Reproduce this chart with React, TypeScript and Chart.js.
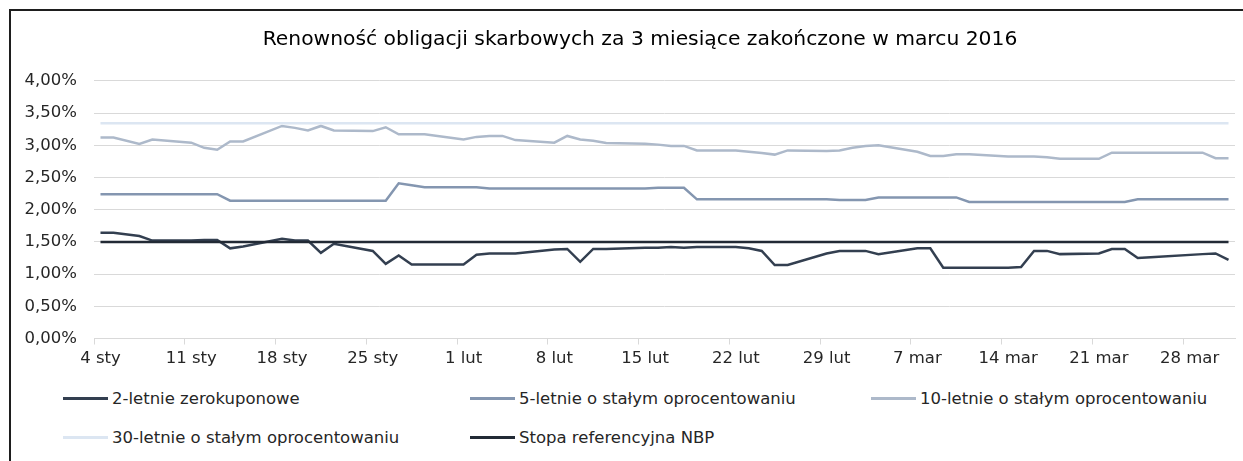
import { useEffect, useRef } from 'react';
import { Chart, registerables } from 'chart.js';

Chart.register(...registerables);

const FONT = '"DejaVu Sans", "Liberation Sans", sans-serif';
const TEXT = '#262626';

const chartTitle = 'Renowność obligacji skarbowych za 3 miesiące zakończone w marcu 2016';

// x-axis tick labels (every 7 days, counted from 4 Jan 2016)
const tickDays = [0, 7, 14, 21, 28, 35, 42, 49, 56, 63, 70, 77, 84];
const tickLabels = ['4 sty', '11 sty', '18 sty', '25 sty', '1 lut', '8 lut', '15 lut', '22 lut', '29 lut', '7 mar', '14 mar', '21 mar', '28 mar'];

// trading days, as day offsets from 4 Jan 2016 (holidays 6 Jan and 28 Mar excluded)
const tradingDays = [
  0, 1, 3, 4, 7, 8, 9, 10, 11, 14, 15, 16, 17, 18, 21, 22, 23, 24, 25,
  28, 29, 30, 31, 32, 35, 36, 37, 38, 39, 42, 43, 44, 45, 46, 49, 50, 51, 52, 53, 56,
  57, 58, 59, 60, 63, 64, 65, 66, 67, 70, 71, 72, 73, 74, 77, 78, 79, 80, 81, 85, 86, 87,
];

const seriesNames = [
  '2-letnie zerokuponowe',
  '5-letnie o stałym oprocentowaniu',
  '10-letnie o stałym oprocentowaniu',
  '30-letnie o stałym oprocentowaniu',
  'Stopa referencyjna NBP',
];
const seriesColors = ['#333f50', '#8496b0', '#adb9ca', '#dce6f2', '#222a35'];

const yield2y = [
  1.64, 1.64, 1.59, 1.52, 1.52, 1.53, 1.53, 1.40, 1.43, 1.55, 1.52, 1.52, 1.33, 1.47, 1.36, 1.16, 1.29, 1.15, 1.15,
  1.15, 1.30, 1.32, 1.32, 1.32, 1.38, 1.39, 1.19, 1.39, 1.39, 1.41, 1.41, 1.42, 1.41, 1.42, 1.42, 1.40, 1.36, 1.14, 1.14, 1.32,
  1.36, 1.36, 1.36, 1.31, 1.40, 1.40, 1.10, 1.10, 1.10, 1.10, 1.11, 1.36, 1.36, 1.31, 1.32, 1.39, 1.39, 1.25, 1.26, 1.31, 1.32, 1.22,
];
const yield5y = [
  2.24, 2.24, 2.24, 2.24, 2.24, 2.24, 2.24, 2.14, 2.14, 2.14, 2.14, 2.14, 2.14, 2.14, 2.14, 2.14, 2.41, 2.38, 2.35,
  2.35, 2.35, 2.33, 2.33, 2.33, 2.33, 2.33, 2.33, 2.33, 2.33, 2.33, 2.34, 2.34, 2.34, 2.16, 2.16, 2.16, 2.16, 2.16, 2.16, 2.16,
  2.15, 2.15, 2.15, 2.19, 2.19, 2.19, 2.19, 2.19, 2.12, 2.12, 2.12, 2.12, 2.12, 2.12, 2.12, 2.12, 2.12, 2.16, 2.16, 2.16, 2.16, 2.16,
];
const yield10y = [
  3.12, 3.12, 3.02, 3.09, 3.04, 2.96, 2.93, 3.06, 3.06, 3.30, 3.27, 3.23, 3.30, 3.23, 3.22, 3.28, 3.17, 3.17, 3.17,
  3.09, 3.13, 3.145, 3.145, 3.08, 3.04, 3.145, 3.09, 3.07, 3.035, 3.025, 3.01, 2.99, 2.99, 2.92, 2.92, 2.90, 2.88, 2.855, 2.92, 2.91,
  2.92, 2.96, 2.99, 3.00, 2.90, 2.835, 2.835, 2.86, 2.86, 2.825, 2.825, 2.825, 2.815, 2.79, 2.79, 2.885, 2.885, 2.885, 2.885, 2.885, 2.80, 2.80,
];
const yield30y = [
  3.34, 3.34, 3.34, 3.34, 3.34, 3.34, 3.34, 3.34, 3.34, 3.34, 3.34, 3.34, 3.34, 3.34, 3.34, 3.34, 3.34, 3.34, 3.34,
  3.34, 3.34, 3.34, 3.34, 3.34, 3.34, 3.34, 3.34, 3.34, 3.34, 3.34, 3.34, 3.34, 3.34, 3.34, 3.34, 3.34, 3.34, 3.34, 3.34, 3.34,
  3.34, 3.34, 3.34, 3.34, 3.34, 3.34, 3.34, 3.34, 3.34, 3.34, 3.34, 3.34, 3.34, 3.34, 3.34, 3.34, 3.34, 3.34, 3.34, 3.34, 3.34, 3.34,
];
const nbpRate = [
  1.5, 1.5, 1.5, 1.5, 1.5, 1.5, 1.5, 1.5, 1.5, 1.5, 1.5, 1.5, 1.5, 1.5, 1.5, 1.5, 1.5, 1.5, 1.5,
  1.5, 1.5, 1.5, 1.5, 1.5, 1.5, 1.5, 1.5, 1.5, 1.5, 1.5, 1.5, 1.5, 1.5, 1.5, 1.5, 1.5, 1.5, 1.5, 1.5, 1.5,
  1.5, 1.5, 1.5, 1.5, 1.5, 1.5, 1.5, 1.5, 1.5, 1.5, 1.5, 1.5, 1.5, 1.5, 1.5, 1.5, 1.5, 1.5, 1.5, 1.5, 1.5, 1.5,
];

const seriesValues = [yield2y, yield5y, yield10y, yield30y, nbpRate];

// legend placement (two rows, three columns)
const legendRows = [0, 0, 0, 1, 1];
const legendCols = [0, 1, 2, 0, 1];

export default function App() {
  const canvasRef = useRef<HTMLCanvasElement | null>(null);

  useEffect(() => {
    if (!canvasRef.current) return;
    const chart = new Chart(canvasRef.current, {
      type: 'line',
      data: {
        datasets: seriesNames.map((name, k) => ({
          label: name,
          data: tradingDays.map((d, i) => ({ x: d, y: seriesValues[k][i] })),
          borderColor: seriesColors[k],
          backgroundColor: seriesColors[k],
          borderWidth: 2.5,
          pointRadius: 0,
          tension: 0,
          fill: false,
          order: seriesNames.length - k,
        })),
      },
      options: {
        animation: false,
        responsive: true,
        maintainAspectRatio: false,
        layout: { padding: { left: 0, right: 0, top: 0, bottom: 0.5 } },
        plugins: {
          legend: { display: false },
          tooltip: { enabled: false },
          title: {
            display: true,
            text: chartTitle,
            color: '#000',
            font: { family: FONT, size: 20.3, weight: 'normal' },
            padding: { top: 17, bottom: 28.5 },
          },
        },
        scales: {
          x: {
            type: 'linear',
            min: -0.5,
            max: 87.5,
            afterBuildTicks: (s: any) => {
              s.ticks = tickDays.map((d) => ({ value: d - 0.5 }));
            },
            afterFit: (s: any) => {
              s.height = 42;
            },
            ticks: {
              autoSkip: false,
              maxRotation: 0,
              minRotation: 0,
              labelOffset: 6.5,
              padding: 4,
              color: TEXT,
              font: { family: FONT, size: 16.5 },
              callback: (_v: any, i: number) => tickLabels[i] ?? '',
            },
            grid: { drawOnChartArea: false, drawTicks: true, tickLength: 6, color: '#d9d9d9' },
            border: { display: true, color: '#d9d9d9' },
          },
          y: {
            min: 0,
            max: 4,
            afterFit: (s: any) => {
              s.width = 83;
            },
            ticks: {
              stepSize: 0.5,
              padding: 17,
              color: TEXT,
              font: { family: FONT, size: 16.5 },
              callback: (v: any) => Number(v).toFixed(2).replace('.', ',') + '%',
            },
            grid: { color: '#d9d9d9', drawTicks: false },
            border: { display: false },
          },
          // empty spacer axis on the right so the title stays centred on the whole frame
          yRight: {
            position: 'right',
            min: 0,
            max: 4,
            afterFit: (s: any) => {
              s.width = 34;
            },
            ticks: { display: false },
            grid: { display: false, drawTicks: false },
            border: { display: false },
          },
        },
      },
    });
    return () => chart.destroy();
  }, []);

  return (
    <div
      style={{
        position: 'fixed',
        left: 0,
        top: 0,
        width: 1243,
        height: 461,
        overflow: 'hidden',
        fontFamily: FONT,
        background: '#fff',
      }}
    >
      <div
        style={{
          position: 'absolute',
          left: 9,
          top: 9,
          width: 1260,
          height: 470,
          borderTop: '2px solid #1e1e1e',
          borderLeft: '2px solid #1e1e1e',
          background: '#fff',
        }}
      >
        <div style={{ position: 'absolute', left: 0, top: 0, width: 1258, height: 370 }}>
          <canvas ref={canvasRef} />
        </div>
        {seriesNames.map((name, k) => (
          <div
            key={name}
            style={{
              position: 'absolute',
              left: [52, 459, 860][legendCols[k]],
              top: [377, 416][legendRows[k]],
              height: 20,
              display: 'flex',
              alignItems: 'center',
              whiteSpace: 'nowrap',
              fontSize: 16.5,
              color: TEXT,
            }}
          >
            <span style={{ display: 'inline-block', width: 45, height: 3, background: seriesColors[k], marginRight: 4 }} />
            <span>{name}</span>
          </div>
        ))}
      </div>
    </div>
  );
}
